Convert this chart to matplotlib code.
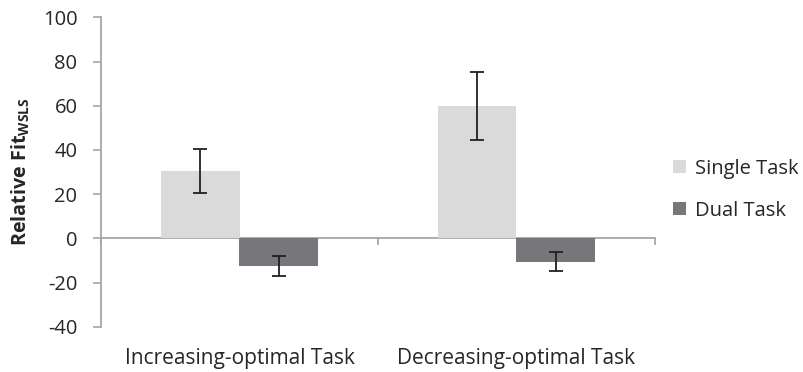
import numpy as np
import matplotlib
matplotlib.use("Agg")
import matplotlib.pyplot as plt

categories = ["Increasing-optimal Task", "Decreasing-optimal Task"]
series_names = ["Single Task", "Dual Task"]
single_means = [30.4, 59.9]
single_err = [10.1, 15.4]
dual_means = [-12.4, -10.6]
dual_err = [4.5, 4.4]
y_ticks = [-40, -20, 0, 20, 40, 60, 80, 100]

SINGLE_COLOR = "#dadadb"
DUAL_COLOR = "#77777b"
AXIS_COLOR = "#a6a6a6"
TEXT_COLOR = "#262626"

plt.rcParams["font.family"] = ["Open Sans", "DejaVu Sans"]
plt.rcParams["mathtext.fontset"] = "custom"
plt.rcParams["mathtext.bf"] = "Open Sans:bold"
plt.rcParams["mathtext.rm"] = "Open Sans"
plt.rcParams["axes.unicode_minus"] = False

fig = plt.figure(figsize=(8.04, 3.72), dpi=100)
ax = fig.add_axes([101 / 804, 45.3 / 372, 554 / 804, 309.4 / 372])

x = np.arange(len(categories))
w = 0.285
err_kw = dict(ecolor="#231f20", elinewidth=1.3, capsize=5, capthick=1.3)
ax.bar(x - w / 2, single_means, w, yerr=single_err, color=SINGLE_COLOR,
       label=series_names[0], error_kw=err_kw, zorder=2)
ax.bar(x + w / 2, dual_means, w, yerr=dual_err, color=DUAL_COLOR,
       label=series_names[1], error_kw=err_kw, zorder=2)

ax.set_xlim(-0.5, len(categories) - 0.5)
ax.set_ylim(-40, 100)
ax.set_yticks(y_ticks)
ax.tick_params(axis="y", colors=AXIS_COLOR, length=5.5, width=1.2,
               labelcolor=TEXT_COLOR, labelsize=14.5, pad=11.5)

# category axis drawn at y=0 with ticks between categories
ax.axhline(0, color=AXIS_COLOR, lw=1.3, zorder=1)
for b in np.arange(-0.5, len(categories), 1.0):
    ax.plot([b, b], [0, -2.7], color=AXIS_COLOR, lw=1.3, clip_on=False, zorder=1)
ax.set_xticks(x)
ax.set_xticklabels(categories)
ax.tick_params(axis="x", length=0, labelsize=15, labelcolor=TEXT_COLOR, pad=15)

for s in ["top", "right", "bottom"]:
    ax.spines[s].set_visible(False)
ax.spines["left"].set_color(AXIS_COLOR)
ax.spines["left"].set_linewidth(1.3)

ax.set_ylabel(r"Relative Fit$_{\mathbf{WSLS}}$", fontsize=14.2, fontweight="bold",
              color=TEXT_COLOR, labelpad=8)

ax.legend(loc="center left", bbox_to_anchor=(1.015, 0.443), frameon=False,
          fontsize=14.5, handlelength=0.65, handleheight=0.65, handletextpad=0.4,
          labelspacing=1.1, labelcolor=TEXT_COLOR, borderpad=0)

fig.savefig("out.png", dpi=100)
